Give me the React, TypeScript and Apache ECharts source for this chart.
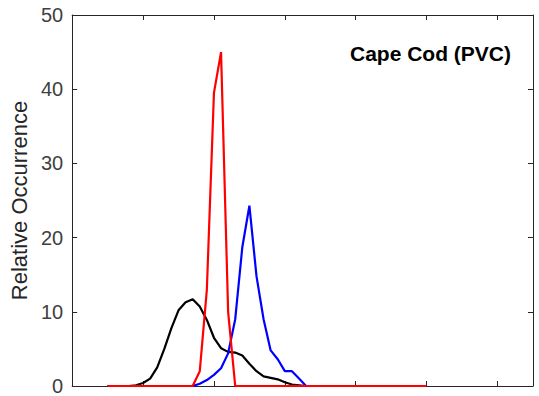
import React, { useEffect, useRef } from "react";
import * as echarts from "echarts";

// bin centres (x axis units; ticks every 0.1)
const binX = [
  0.05, 0.06, 0.07, 0.08, 0.09, 0.10, 0.11, 0.12, 0.13, 0.14,
  0.15, 0.16, 0.17, 0.18, 0.19, 0.20, 0.21, 0.22, 0.23, 0.24,
  0.25, 0.26, 0.27, 0.28, 0.29, 0.30, 0.31, 0.32, 0.33, 0.34,
  0.35, 0.36, 0.37, 0.38, 0.39, 0.40, 0.41, 0.42, 0.43, 0.44,
  0.45, 0.46, 0.47, 0.48, 0.49, 0.50,
];

const blackValues = [
  0, 0, 0, 0, 0.1, 0.4, 1.0, 2.5, 5.0, 7.8,
  10.2, 11.3, 11.7, 10.7, 8.9, 6.5, 5.1, 4.6, 4.5, 4.1,
  3.0, 2.0, 1.3, 1.1, 0.9, 0.5, 0.2, 0.1, 0, 0,
  0, 0, 0, 0, 0, 0, 0, 0, 0, 0,
  0, 0, 0, 0, 0, 0,
];

const blueValues = [
  0, 0, 0, 0, 0, 0, 0, 0, 0, 0,
  0, 0, 0, 0.3, 0.8, 1.5, 2.4, 4.4, 9.0, 18.7,
  24.3, 14.8, 9.0, 4.8, 3.6, 2.0, 2.0, 1.0, 0, 0,
  0, 0, 0, 0, 0, 0, 0, 0, 0, 0,
  0, 0, 0, 0, 0, 0,
];

const redValues = [
  0, 0, 0, 0, 0, 0, 0, 0, 0, 0,
  0, 0, 0, 2.0, 13, 39.5, 45, 10, 0, 0,
  0, 0, 0, 0, 0, 0, 0, 0, 0, 0,
  0, 0, 0, 0, 0, 0, 0, 0, 0, 0,
  0, 0, 0, 0, 0, 0,
];

const yTicks = [0, 10, 20, 30, 40, 50];
const panelTitle = "Cape Cod (PVC)";
const yName = "Relative Occurrence";

const FONT = "'Liberation Sans', Arial, Helvetica, sans-serif";
const AXIS_COLOR = "#262626";

export default function App() {
  const ref = useRef<HTMLDivElement>(null);

  useEffect(() => {
    if (!ref.current) return;
    const chart = echarts.init(ref.current, undefined, { renderer: "svg" });
    const pairs = (vals: number[]) => binX.map((x, i) => [x, vals[i]]);
    const axisCommon = {
      axisLine: { show: true, onZero: false, lineStyle: { color: AXIS_COLOR, width: 1 } },
      axisTick: { show: true, inside: true, length: 5, lineStyle: { color: AXIS_COLOR, width: 1 } },
      splitLine: { show: false },
    };
    chart.setOption({
      animation: false,
      backgroundColor: "#ffffff",
      grid: { left: 72, top: 15, width: 461, height: 375, containLabel: false },
      xAxis: [
        {
          type: "value", min: 0, max: 0.65, interval: 0.1, position: "bottom",
          axisLabel: { show: false }, ...axisCommon,
        },
        {
          type: "value", min: 0, max: 0.65, interval: 0.1, position: "top",
          axisLabel: { show: false }, ...axisCommon,
        },
      ],
      yAxis: [
        {
          type: "value", min: yTicks[0], max: yTicks[yTicks.length - 1], interval: 10,
          position: "left",
          name: yName, nameLocation: "middle", nameRotate: 90, nameGap: 38,
          nameTextStyle: { fontFamily: FONT, fontSize: 22, color: "#262626" },
          axisLabel: { show: true, fontFamily: FONT, fontSize: 20, color: "#404040", margin: 9 },
          ...axisCommon,
        },
        {
          type: "value", min: yTicks[0], max: yTicks[yTicks.length - 1], interval: 10,
          position: "right",
          axisLabel: { show: false }, ...axisCommon,
        },
      ],
      series: [
        {
          type: "line", name: "black", data: pairs(blackValues), showSymbol: false,
          lineStyle: { color: "#000000", width: 2.2 }, itemStyle: { color: "#000000" },
        },
        {
          type: "line", name: "blue", data: pairs(blueValues), showSymbol: false,
          lineStyle: { color: "#0000ff", width: 2.2 }, itemStyle: { color: "#0000ff" },
        },
        {
          type: "line", name: "red", data: pairs(redValues), showSymbol: false,
          lineStyle: { color: "#ff0000", width: 2.2 }, itemStyle: { color: "#ff0000" },
        },
      ],
      graphic: [
        {
          type: "text", x: 511, y: 53,
          style: {
            text: panelTitle, fontFamily: FONT, fontWeight: "bold", fontSize: 21,
            fill: "#000000", textAlign: "right", textVerticalAlign: "middle",
          },
        },
      ],
    });
    return () => chart.dispose();
  }, []);

  return (
    <div
      ref={ref}
      style={{ position: "fixed", left: 0, top: 0, width: 539, height: 396, background: "#fff" }}
    />
  );
}
